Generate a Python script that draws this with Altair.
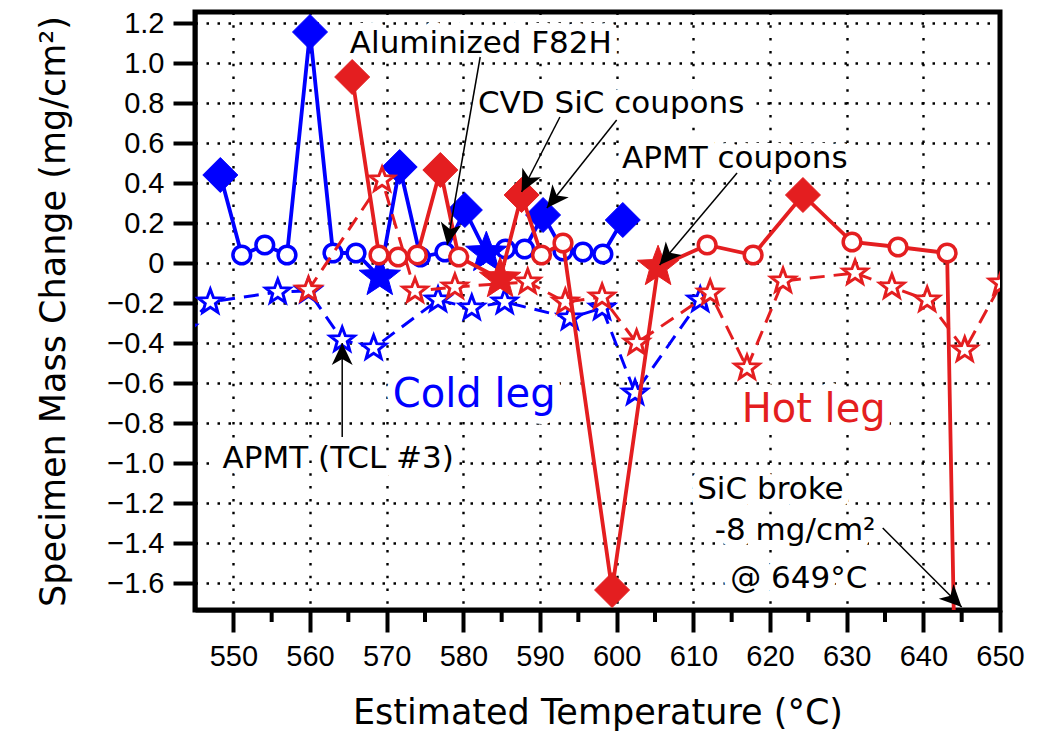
import math
import altair as alt
import pandas as pd

# ---------------- data ----------------
# Cold leg, this loop (solid blue). kind: D = CVD SiC, C = aluminized F82H, S = APMT
cold_temp = [548.3, 551.1, 554.1, 557.0, 560.0, 563.0, 566.0, 569.1, 571.7, 574.4,
             577.6, 580.2, 583.0, 585.5, 588.0, 590.4, 593.0, 595.6, 598.2, 600.8]
cold_mass = [0.44, 0.04, 0.09, 0.04, 1.155, 0.05, 0.05, -0.07, 0.48, 0.03,
             0.055, 0.265, 0.05, 0.07, 0.07, 0.24, 0.06, 0.055, 0.045, 0.215]
cold_kind = ["D", "C", "C", "C", "D", "C", "C", "S", "D", "C",
             "C", "D", "S", "C", "C", "D", "C", "C", "C", "D"]

# Hot leg, this loop (solid red); last point is the broken SiC (-8 mg/cm2)
hot_temp = [565.5, 569.0, 571.5, 574.0, 577.0, 579.4, 584.8, 587.6, 590.2, 593.0,
            599.4, 605.4, 611.8, 617.8, 624.3, 630.7, 636.7, 643.1, 647.0]
hot_mass = [0.93, 0.04, 0.03, 0.04, 0.465, 0.03, -0.08, 0.34, 0.04, 0.10,
            -1.635, -0.02, 0.09, 0.04, 0.34, 0.105, 0.08, 0.05, -8.0]
hot_kind = ["D", "C", "C", "C", "D", "C", "S", "D", "C", "C",
            "D", "S", "C", "C", "D", "C", "C", "C", "N"]

# APMT, TCL #3 (dashed, open stars)
tcl3_cold_temp = [543.5, 547.0, 555.8, 559.8, 564.2, 568.3, 576.7, 581.1, 585.4,
                  593.9, 598.1, 602.4, 610.9]
tcl3_cold_mass = [-0.33, -0.195, -0.145, -0.14, -0.385, -0.425, -0.185, -0.225, -0.195,
                  -0.275, -0.225, -0.65, -0.185]
tcl3_hot_temp = [559.8, 569.4, 573.7, 578.9, 588.4, 593.3, 598.1, 602.6, 612.2,
                 617.0, 621.7, 631.1, 635.9, 640.5, 645.4, 650.2]
tcl3_hot_mass = [-0.135, 0.415, -0.14, -0.12, -0.095, -0.195, -0.17, -0.4, -0.15,
                 -0.525, -0.09, -0.05, -0.12, -0.185, -0.435, -0.1]

x_ticks = [550, 560, 570, 580, 590, 600, 610, 620, 630, 640, 650]
x_minor = [555, 565, 575, 585, 595, 605, 615, 625, 635, 645]
y_ticks = [-1.6, -1.4, -1.2, -1.0, -0.8, -0.6, -0.4, -0.2, 0.0,
           0.2, 0.4, 0.6, 0.8, 1.0, 1.2]

# annotations (data coordinates)
note_text = ["Aluminized F82H", "CVD SiC coupons", "APMT coupons", "APMT (TCL #3)",
             "Cold leg", "Hot leg", "SiC broke", "-8 mg/cm²", "@ 649°C"]
note_x = [565.2, 581.9, 600.7, 548.6, 570.8, 616.3, 610.5, 612.8, 614.8]
note_y = [1.05, 0.75, 0.475, -1.025, -0.72, -0.795, -1.18, -1.385, -1.625]
note_color = ["black", "black", "black", "black", "blue", "red", "black", "black", "black"]
note_big = [0, 0, 0, 0, 1, 1, 0, 0, 0]

arrow_x0 = [582.2, 592.6, 600.0, 615.7, 564.2, 634.7]
arrow_y0 = [1.03, 0.73, 0.715, 0.45, -0.87, -1.325]
arrow_x1 = [577.9, 587.6, 590.9, 605.6, 564.2, 645.0]
arrow_y1 = [0.09, 0.355, 0.275, -0.01, -0.40, -1.72]

# ---------------- styling ----------------
W, H = 805, 598
X_DOM = [545, 650]
Y_DOM = [-1.735, 1.255]
BLUE = "#0000ff"
RED = "#e41e20"
FONT = "DejaVu Sans"
TICKFONT = "Liberation Sans"
PX_X = W / (X_DOM[1] - X_DOM[0])
PX_Y = H / (Y_DOM[1] - Y_DOM[0])


def star_path(r_in):
    pts = []
    for k in range(10):
        a = math.radians(-90 + 36 * k)
        r = 1.0 if k % 2 == 0 else r_in
        pts.append(f"{r * math.cos(a):.4f},{r * math.sin(a):.4f}")
    return "M" + " L".join(pts) + " Z"


STAR = star_path(0.42)
DART = "M0,0 L-0.95,2 L0,1.45 L0.95,2 Z"

# ---------------- tables ----------------
def series_df(name, t, m, k):
    return pd.DataFrame({"series": name, "t": t, "m": m, "kind": k, "i": list(range(len(t)))})


df = pd.concat([
    series_df("cold", cold_temp, cold_mass, cold_kind),
    series_df("hot", hot_temp, hot_mass, hot_kind),
    series_df("tcl3cold", tcl3_cold_temp, tcl3_cold_mass, ["O"] * len(tcl3_cold_temp)),
    series_df("tcl3hot", tcl3_hot_temp, tcl3_hot_mass, ["O"] * len(tcl3_hot_temp)),
], ignore_index=True)

notes = pd.DataFrame({"text": note_text, "x": note_x, "y": note_y,
                      "color": note_color, "big": note_big})
notes["size"] = notes["big"].map({0: 31, 1: 40})
notes["color"] = notes["color"].map({"black": "black", "blue": BLUE, "red": RED})

angles = []
for a, b, c, d in zip(arrow_x0, arrow_y0, arrow_x1, arrow_y1):
    dx = (c - a) * PX_X
    dy = -(d - b) * PX_Y
    angles.append(math.degrees(math.atan2(dx, -dy)) % 360)
arrows = pd.DataFrame({"x0": arrow_x0, "y0": arrow_y0, "x1": arrow_x1,
                       "y1": arrow_y1, "ang": angles})
minor = pd.DataFrame({"t": x_minor})

xs = alt.Scale(domain=X_DOM, nice=False, zero=False)
ys = alt.Scale(domain=Y_DOM, nice=False, zero=False)

x_axis = alt.Axis(values=x_ticks, title="Estimated Temperature (°C)",
                  grid=True, gridColor="black", gridDash=[2.5, 10.3], gridWidth=2.4,
                  gridOpacity=1, tickSize=22, tickWidth=4, tickColor="black",
                  domainWidth=4, domainColor="black", labelFont=TICKFONT, labelFontSize=29,
                  labelColor="black", labelPadding=10, labelFlush=False,
                  titleFont=FONT, titleFontSize=35, titleFontWeight="normal",
                  titleColor="black", titleX=W / 2, titleY=113, titleAlign="center",
                  titleBaseline="alphabetic")
y_axis = alt.Axis(values=y_ticks, title="Specimen Mass Change (mg/cm²)",
                  labelExpr="datum.value == 0 ? '0' : replace(format(datum.value, '.1f'), '-', '−')",
                  grid=True, gridColor="black", gridDash=[2.5, 8.5], gridWidth=2.4,
                  gridOpacity=1, tickSize=22, tickWidth=4, tickColor="black",
                  domainWidth=4, domainColor="black", labelFont=TICKFONT, labelFontSize=29,
                  labelColor="black", labelPadding=9, labelFlush=False,
                  titleFont=FONT, titleFontSize=35, titleFontWeight="normal",
                  titleColor="black", titleX=-142, titleY=H / 2, titleAlign="center",
                  titleBaseline="middle", titleAngle=270)

X = alt.X("t:Q", scale=xs, axis=x_axis)
Y = alt.Y("m:Q", scale=ys, axis=y_axis)

base = alt.Chart(df)


def line(series, color, dash=None, width=3.8):
    kw = dict(color=color, strokeWidth=width, clip=True)
    if dash:
        kw["strokeDash"] = dash
    return base.transform_filter(alt.datum.series == series).mark_line(**kw).encode(
        x=X, y=Y, order="i:Q")


def points(series, kind, shape, size, fill, stroke, sw):
    return base.transform_filter(
        (alt.datum.series == series) & (alt.datum.kind == kind)
    ).mark_point(shape=shape, size=size, filled=True, fill=fill, stroke=stroke,
                 strokeWidth=sw, opacity=1, clip=True).encode(x=X, y=Y)


# white halo behind annotation text hides the dotted grid there (as in the reference)
halo = alt.Chart(notes).mark_text(font=FONT, align="left", baseline="alphabetic",
                                  stroke="white", strokeWidth=16, fill="white",
                                  strokeJoin="round").encode(
    x=alt.X("x:Q", scale=xs), y=alt.Y("y:Q", scale=ys),
    text="text:N", size=alt.Size("size:Q", scale=None))

layers = [
    line("tcl3cold", BLUE, [15, 9], 3),
    points("tcl3cold", "O", STAR, 650, "white", BLUE, 3),
    line("cold", BLUE),
    points("cold", "C", "circle", 314, "white", BLUE, 3.5),
    points("cold", "D", "diamond", 1225, BLUE, BLUE, 1),
    points("cold", "S", STAR, 1900, BLUE, BLUE, 1),
    line("tcl3hot", RED, [15, 9], 3),
    points("tcl3hot", "O", STAR, 650, "white", RED, 3),
    line("hot", RED),
    points("hot", "C", "circle", 314, "white", RED, 3.5),
    points("hot", "D", "diamond", 1225, RED, RED, 1),
    points("hot", "S", STAR, 1900, RED, RED, 1),
]

minor_ticks = alt.Chart(minor).mark_rule(color="black", strokeWidth=4, clip=False).encode(
    x=alt.X("t:Q", scale=xs), y=alt.value(H), y2=alt.value(H + 12))

arrow_lines = alt.Chart(arrows).mark_rule(color="black", strokeWidth=1.5).encode(
    x=alt.X("x0:Q", scale=xs), y=alt.Y("y0:Q", scale=ys),
    x2="x1:Q", y2="y1:Q")
arrow_heads = alt.Chart(arrows).mark_point(shape=DART, size=484, filled=True,
                                           color="black", opacity=1).encode(
    x=alt.X("x1:Q", scale=xs), y=alt.Y("y1:Q", scale=ys),
    angle=alt.Angle("ang:Q", scale=None))

texts = alt.Chart(notes).mark_text(font=FONT, align="left", baseline="alphabetic").encode(
    x=alt.X("x:Q", scale=xs), y=alt.Y("y:Q", scale=ys),
    text="text:N", color=alt.Color("color:N", scale=None),
    size=alt.Size("size:Q", scale=None))

chart = alt.layer(halo, *layers, minor_ticks, arrow_lines, arrow_heads, texts).properties(
    width=W, height=H,
    autosize=alt.AutoSizeParams(type="none"),
    padding={"left": 195, "top": 12, "right": 37, "bottom": 128},
    background="white",
).configure_view(stroke="black", strokeWidth=5)

chart.save("out.html", embed_options={"renderer": "svg", "actions": False})
